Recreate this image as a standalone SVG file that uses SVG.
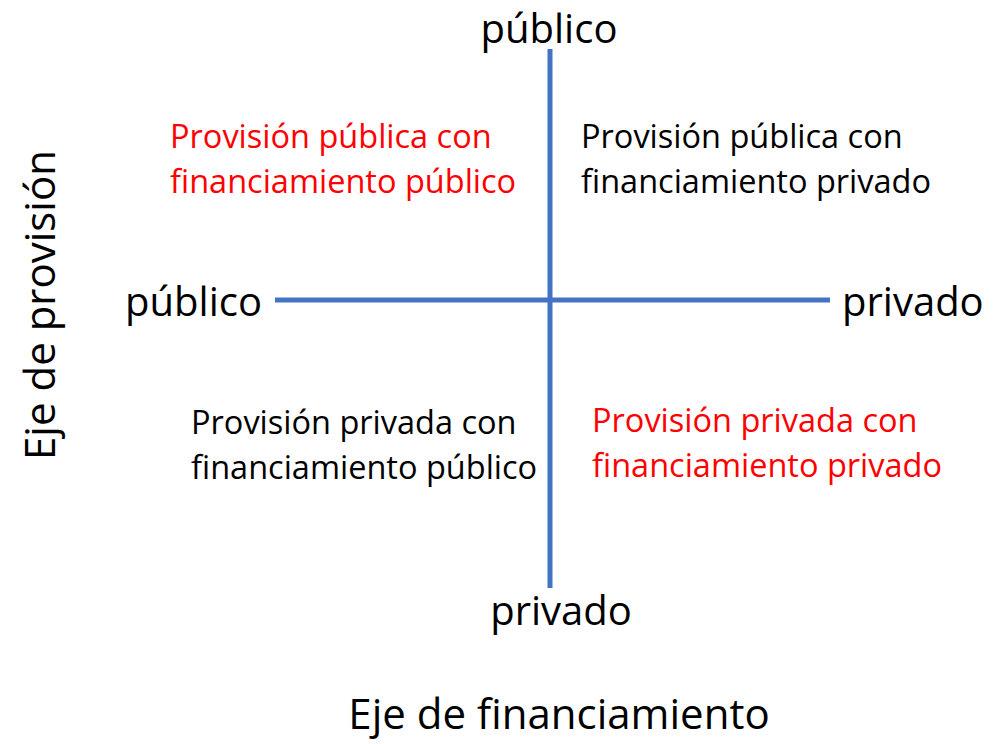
<svg xmlns="http://www.w3.org/2000/svg" width="1001" height="744" viewBox="0 0 1001 744">
<style>
text{font-family:"Open Sans","Noto Sans","Liberation Sans",sans-serif;fill:#000}
.big{font-size:40px}
.title{font-size:42px}
.q{font-size:32.5px}
.red{fill:#ff0000}
.axis{stroke:#4472c4;stroke-width:5;fill:none}
</style>
<rect width="1001" height="744" fill="#ffffff"/>
<g id="connectors">
<line class="axis" x1="550" y1="49" x2="550" y2="588"/>
<line class="axis" x1="275" y1="300" x2="830" y2="300"/>
</g>
<g id="label-top"><text class="big" x="549" y="43" text-anchor="middle">público</text></g>
<g id="label-bottom"><text class="big" x="561" y="625" text-anchor="middle">privado</text></g>
<g id="label-left"><text class="big" x="262" y="316" text-anchor="end">público</text></g>
<g id="label-right"><text class="big" x="842" y="316">privado</text></g>
<g id="axis-y-title"><text class="title" transform="translate(55,305) rotate(-90)" text-anchor="middle">Eje de provisión</text></g>
<g id="axis-x-title"><text class="title" x="559" y="729" text-anchor="middle">Eje de financiamiento</text></g>
<g id="q-top-left"><text class="q red" x="170" y="148">Provisión pública con</text><text class="q red" x="170" y="193">financiamiento público</text></g>
<g id="q-top-right"><text class="q" x="581" y="148">Provisión pública con</text><text class="q" x="581" y="193">financiamiento privado</text></g>
<g id="q-bottom-left"><text class="q" x="191" y="434">Provisión privada con</text><text class="q" x="191" y="479">financiamiento público</text></g>
<g id="q-bottom-right"><text class="q red" x="592" y="432">Provisión privada con</text><text class="q red" x="592" y="477">financiamiento privado</text></g>
</svg>
